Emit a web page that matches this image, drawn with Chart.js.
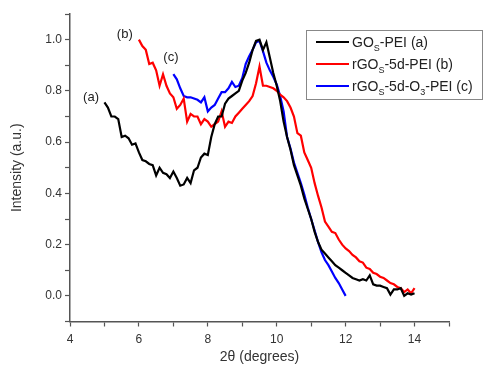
<!DOCTYPE html>
<html>
<head>
<meta charset="utf-8">
<script src="https://cdn.jsdelivr.net/npm/chart.js@4.4.0/dist/chart.umd.min.js"></script>
<style>
    html, body { margin: 0; padding: 0; background: #fff; }
    #wrap { width: 485px; height: 367px; }
</style>
</head>
<body>
<div id="wrap"><canvas id="xrd-chart" width="485" height="367"></canvas></div>
<script>
// 2theta values and intensities
const xA = [5.0, 5.1, 5.2, 5.3, 5.4, 5.5, 5.6, 5.7, 5.8, 5.9, 6.0, 6.1, 6.2, 6.3, 6.4, 6.5, 6.6, 6.7, 6.8, 6.9,
    7.0, 7.1, 7.2, 7.3, 7.4, 7.5, 7.6, 7.7, 7.8, 7.9, 8.0, 8.1, 8.2, 8.3, 8.4, 8.5, 8.6, 8.7, 8.8, 8.9,
    9.0, 9.1, 9.2, 9.3, 9.4, 9.5, 9.6, 9.7, 9.8, 9.9, 10.0, 10.1, 10.2, 10.3, 10.4, 10.5, 10.6, 10.7, 10.8, 10.9,
    11.0, 11.1, 11.2, 11.3, 11.4, 11.5, 11.6, 11.7, 11.8, 11.9, 12.0, 12.1, 12.2, 12.3, 12.4, 12.5, 12.6, 12.7, 12.8, 12.9,
    13.0, 13.1, 13.2, 13.3, 13.4, 13.5, 13.6, 13.7, 13.8, 13.9, 14.0];
const yA = [0.755, 0.735, 0.70, 0.70, 0.69, 0.62, 0.625, 0.615, 0.59, 0.595, 0.56, 0.53, 0.525, 0.515, 0.51, 0.47, 0.50, 0.48, 0.475, 0.46,
    0.485, 0.46, 0.43, 0.435, 0.46, 0.44, 0.49, 0.50, 0.54, 0.555, 0.55, 0.62, 0.67, 0.70, 0.70, 0.75, 0.77, 0.78, 0.79, 0.80,
    0.84, 0.87, 0.91, 0.96, 0.995, 1.0, 0.96, 0.99, 0.93, 0.87, 0.82, 0.76, 0.68, 0.62, 0.57, 0.51, 0.47, 0.43, 0.38, 0.34,
    0.30, 0.25, 0.21, 0.18, 0.165, 0.15, 0.135, 0.12, 0.11, 0.10, 0.09, 0.08, 0.07, 0.065, 0.06, 0.065, 0.06, 0.08, 0.045, 0.04,
    0.04, 0.035, 0.03, 0.005, 0.025, 0.025, 0.03, 0.0, 0.01, 0.005, 0.01];

const xB = [6.0, 6.1, 6.2, 6.3, 6.4, 6.5, 6.6, 6.7, 6.8, 6.9, 7.0, 7.1, 7.2, 7.3, 7.4, 7.5, 7.6, 7.7, 7.8, 7.9,
    8.0, 8.1, 8.2, 8.3, 8.4, 8.5, 8.6, 8.7, 8.8, 8.9, 9.0, 9.1, 9.2, 9.3, 9.4, 9.5, 9.6, 9.7, 9.8, 9.9,
    10.0, 10.1, 10.2, 10.3, 10.4, 10.5, 10.6, 10.7, 10.8, 10.9, 11.0, 11.1, 11.2, 11.3, 11.4, 11.5, 11.6, 11.7, 11.8, 11.9,
    12.0, 12.1, 12.2, 12.3, 12.4, 12.5, 12.6, 12.7, 12.8, 12.9, 13.0, 13.1, 13.2, 13.3, 13.4, 13.5, 13.6, 13.7, 13.8, 13.9, 14.0];
const yB = [1.0, 0.975, 0.96, 0.905, 0.91, 0.88, 0.82, 0.865, 0.82, 0.79, 0.775, 0.73, 0.745, 0.77, 0.68, 0.71, 0.70, 0.70, 0.67, 0.69,
    0.68, 0.66, 0.67, 0.68, 0.72, 0.66, 0.68, 0.675, 0.70, 0.715, 0.73, 0.745, 0.76, 0.78, 0.83, 0.895, 0.82, 0.82, 0.815, 0.81,
    0.80, 0.785, 0.775, 0.76, 0.735, 0.70, 0.635, 0.625, 0.56, 0.53, 0.50, 0.44, 0.39, 0.345, 0.29, 0.27, 0.25, 0.245, 0.22, 0.20,
    0.185, 0.175, 0.16, 0.15, 0.135, 0.13, 0.11, 0.105, 0.09, 0.085, 0.075, 0.07, 0.06, 0.05, 0.045, 0.035, 0.03, 0.015, 0.025, 0.01, 0.03];

const xC = [7.0, 7.1, 7.2, 7.3, 7.4, 7.5, 7.6, 7.7, 7.8, 7.9, 8.0, 8.1, 8.2, 8.3, 8.4, 8.5, 8.6, 8.7, 8.8, 8.9,
    9.0, 9.1, 9.2, 9.3, 9.4, 9.5, 9.6, 9.7, 9.8, 9.9, 10.0, 10.1, 10.2, 10.3, 10.4, 10.5, 10.6, 10.7, 10.8, 10.9,
    11.0, 11.1, 11.2, 11.3, 11.4, 11.5, 11.6, 11.7, 11.8, 11.9, 12.0];
const yC = [0.865, 0.845, 0.81, 0.78, 0.775, 0.775, 0.77, 0.765, 0.755, 0.775, 0.72, 0.735, 0.745, 0.77, 0.795, 0.795, 0.81, 0.835, 0.815, 0.82,
    0.85, 0.905, 0.935, 0.96, 0.99, 0.995, 0.955, 0.91, 0.88, 0.855, 0.825, 0.78, 0.72, 0.62, 0.575, 0.52, 0.48, 0.44, 0.395, 0.345,
    0.30, 0.255, 0.21, 0.17, 0.14, 0.12, 0.095, 0.07, 0.05, 0.025, 0.0];

// Legend entries: [main, subscript, rest, subscript, rest]
const legendNames = [
    ['GO', 'S', '-PEI (a)'],
    ['rGO', 'S', '-5d-PEI (b)'],
    ['rGO', 'S', '-5d-O', '3', '-PEI (c)']
];
const seriesColors = ['#000000', '#ff0000', '#0000ff'];

// Curve tags and where they sit (data units)
const tagText = ['(a)', '(b)', '(c)'];
const tagX = [4.61, 5.59, 6.93];
const tagY = [0.776, 1.02, 0.93];

const FONT = '"Liberation Sans", Arial, sans-serif';
const AXIS_COLOR = '#555';

function toPoints(xs, ys) {
    return xs.map((x, i) => ({ x: x, y: ys[i] }));
}

// Draws the boxed legend and the (a)/(b)/(c) tags
const annotatePlugin = {
    id: 'annotate',
    afterDatasetsDraw(chart) {
        const ctx = chart.ctx;
        const xs = chart.scales.x;
        const ys = chart.scales.y;

        ctx.save();
        ctx.fillStyle = '#222';
        ctx.font = '13px ' + FONT;
        ctx.textAlign = 'center';
        ctx.textBaseline = 'middle';
        tagText.forEach((t, i) => {
            ctx.fillText(t, xs.getPixelForValue(tagX[i]), ys.getPixelForValue(tagY[i]));
        });

        // legend box
        const bx = 306, by = 30, bw = 176, bh = 69;
        ctx.fillStyle = '#fff';
        ctx.fillRect(bx, by, bw, bh);
        ctx.strokeStyle = '#888';
        ctx.lineWidth = 1;
        ctx.strokeRect(bx + 0.5, by + 0.5, bw, bh);

        const rowY = [42, 64, 86];
        ctx.textAlign = 'left';
        ctx.textBaseline = 'alphabetic';
        legendNames.forEach((parts, i) => {
            const y = rowY[i];
            ctx.strokeStyle = seriesColors[i];
            ctx.lineWidth = 2.2;
            ctx.beginPath();
            ctx.moveTo(316, y);
            ctx.lineTo(349, y);
            ctx.stroke();

            let tx = 352;
            ctx.fillStyle = '#222';
            parts.forEach((p, k) => {
                const sub = k % 2 === 1;
                ctx.font = (sub ? '9px ' : '14px ') + FONT;
                ctx.fillText(p, tx, sub ? y + 9 : y + 5);
                tx += ctx.measureText(p).width;
            });
        });
        ctx.restore();
    }
};

function makeDataset(label, xs, ys, color) {
    return {
        label: label,
        data: toPoints(xs, ys),
        borderColor: color,
        backgroundColor: color,
        borderWidth: 2.2,
        pointRadius: 0,
        showLine: true,
        tension: 0,
        fill: false
    };
}

const ctx = document.getElementById('xrd-chart').getContext('2d');
new Chart(ctx, {
    type: 'scatter',
    data: {
        datasets: [
            makeDataset('GOs-PEI (a)', xA, yA, seriesColors[0]),
            makeDataset('rGOs-5d-PEI (b)', xB, yB, seriesColors[1]),
            makeDataset('rGOs-5d-O3-PEI (c)', xC, yC, seriesColors[2])
        ]
    },
    options: {
        responsive: false,
        animation: false,
        devicePixelRatio: 1,
        layout: {
            padding: { top: 14, right: 36, left: 0, bottom: 0 }
        },
        plugins: {
            legend: { display: false },
            tooltip: { enabled: false }
        },
        scales: {
            x: {
                type: 'linear',
                min: 4,
                max: 15,
                border: { display: true, color: AXIS_COLOR, width: 1.5 },
                grid: {
                    drawOnChartArea: false,
                    drawTicks: true,
                    tickLength: 5,
                    tickColor: AXIS_COLOR,
                    tickWidth: 1.2
                },
                ticks: {
                    stepSize: 1,
                    autoSkip: false,
                    maxRotation: 0,
                    padding: 6,
                    color: '#333',
                    font: { family: FONT, size: 12 },
                    callback: v => (v % 2 === 0 ? String(v) : '')
                },
                title: {
                    display: true,
                    text: '2θ (degrees)',
                    color: '#333',
                    font: { family: FONT, size: 14 },
                    padding: { top: 4, bottom: 1 }
                },
                afterFit: scale => { scale.height = 45.5; }
            },
            y: {
                type: 'linear',
                min: -0.1,
                max: 1.1,
                border: { display: true, color: AXIS_COLOR, width: 1.5 },
                grid: {
                    drawOnChartArea: false,
                    drawTicks: true,
                    tickLength: 5,
                    tickColor: AXIS_COLOR,
                    tickWidth: 1.2
                },
                ticks: {
                    stepSize: 0.1,
                    autoSkip: false,
                    padding: 3,
                    color: '#333',
                    font: { family: FONT, size: 12 },
                    callback: v => (Math.round(v * 10) % 2 === 0 ? v.toFixed(1) : '')
                },
                title: {
                    display: true,
                    text: 'Intensity (a.u.)',
                    color: '#333',
                    font: { family: FONT, size: 14 },
                    padding: { top: 9, bottom: 4 }
                },
                afterFit: scale => { scale.width = 70; }
            }
        }
    },
    plugins: [annotatePlugin]
});
</script>
</body>
</html>
